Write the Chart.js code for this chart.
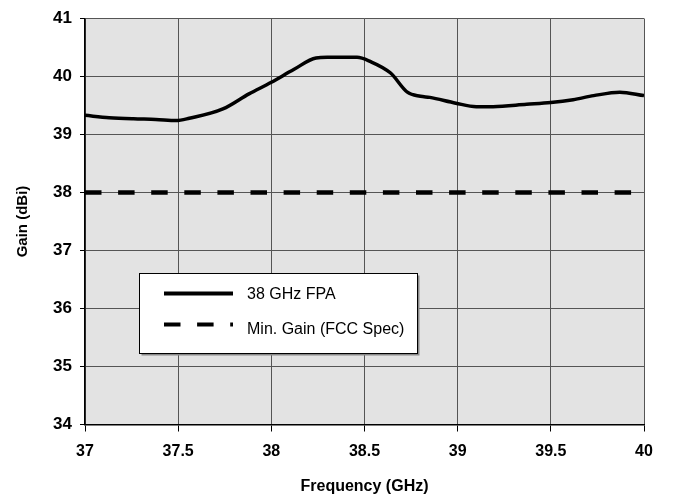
<!DOCTYPE html>
<html>
<head>
<meta charset="utf-8">
<script src="https://cdn.jsdelivr.net/npm/chart.js@4/dist/chart.umd.min.js"></script>
<style>
  body { margin: 0; background: #fff; }
</style>
</head>
<body>
<canvas id="c" width="673" height="499"></canvas>
<script>
// values
const freq = [37, 37.13, 37.26, 37.38, 37.49, 37.56, 37.74, 37.88, 38.0, 38.12, 38.24, 38.3, 38.46, 38.53,
  38.64, 38.73, 38.8, 38.85, 38.99, 39.1, 39.19, 39.37, 39.5, 39.62, 39.73, 39.87, 40.0];
const gain = [39.33, 39.29, 39.27, 39.26, 39.24, 39.28, 39.44, 39.70, 39.90, 40.12, 40.32, 40.33, 40.33, 40.26,
  40.06, 39.73, 39.66, 39.64, 39.54, 39.48, 39.48, 39.52, 39.55, 39.60, 39.67, 39.73, 39.67];
const specFreq = [37, 40];
const specGain = [38, 38];
const seriesNames = ['38 GHz FPA', 'Min. Gain (FCC Spec)'];

const FONT = '"Liberation Sans", Arial, sans-serif';
const DASH = [16.5, 16.6];

const plotBg = {
  id: 'plotBg',
  beforeDraw(chart) {
    const {ctx, chartArea: a} = chart;
    ctx.save();
    ctx.fillStyle = '#e3e3e3';
    ctx.fillRect(a.left, a.top, a.right - a.left, a.bottom - a.top);
    ctx.restore();
  }
};

// legend box drawn by hand, inside the plot
const boxLegend = {
  id: 'boxLegend',
  afterDraw(chart) {
    const ctx = chart.ctx;
    const x = 139.5, y = 273.5, w = 278, h = 80;
    ctx.save();
    ctx.fillStyle = '#888';
    ctx.fillRect(x + 2, y + 2, w, h);
    ctx.fillStyle = '#fff';
    ctx.fillRect(x, y, w, h);
    ctx.strokeStyle = '#000';
    ctx.lineWidth = 1;
    ctx.strokeRect(x, y, w, h);

    ctx.lineWidth = 4;
    ctx.beginPath();
    ctx.moveTo(164, 293.5);
    ctx.lineTo(233, 293.5);
    ctx.stroke();
    ctx.setLineDash(DASH);
    ctx.beginPath();
    ctx.moveTo(164, 324.5);
    ctx.lineTo(233, 324.5);
    ctx.stroke();
    ctx.setLineDash([]);

    ctx.fillStyle = '#000';
    ctx.font = '16px ' + FONT;
    ctx.textBaseline = 'middle';
    ctx.fillText(seriesNames[0], 247, 295);
    ctx.fillText(seriesNames[1], 247, 330);
    ctx.restore();
  }
};

new Chart(document.getElementById('c'), {
  type: 'scatter',
  data: {
    datasets: [
      {
        label: seriesNames[0],
        data: freq.map((f, i) => ({x: f, y: gain[i]})),
        showLine: true,
        borderColor: '#000',
        borderWidth: 3.5,
        pointRadius: 0,
        cubicInterpolationMode: 'monotone'
      },
      {
        label: seriesNames[1],
        data: specFreq.map((f, i) => ({x: f, y: specGain[i]})),
        showLine: true,
        borderColor: '#000',
        borderWidth: 4.5,
        borderDash: DASH,
        borderCapStyle: 'butt',
        pointRadius: 0
      }
    ]
  },
  options: {
    responsive: false,
    animation: false,
    layout: { padding: { top: 18.5, right: 29, left: 0, bottom: 0 } },
    plugins: { legend: { display: false }, tooltip: { enabled: false } },
    scales: {
      x: {
        type: 'linear',
        min: 37, max: 40,
        afterFit(s) { s.height = 74.5; },
        ticks: {
          stepSize: 0.5,
          color: '#000',
          padding: 10,
          callback: v => String(v),
          font: { family: FONT, size: 16, weight: 'bold' }
        },
        grid: { color: '#555', lineWidth: 1, tickLength: 7, tickColor: '#000' },
        border: { color: '#000', width: 1.5 },
        title: {
          display: true,
          text: 'Frequency (GHz)',
          color: '#000',
          padding: { top: 0, bottom: 2.5 },
          font: { family: FONT, size: 16, weight: 'bold' }
        }
      },
      y: {
        min: 34, max: 41,
        afterFit(s) { s.width = 85; },
        ticks: {
          stepSize: 1,
          color: '#000',
          padding: 8,
          callback: v => String(v),
          font: { family: FONT, size: 17, weight: 'bold' }
        },
        grid: { color: '#555', lineWidth: 1, tickLength: 5, tickColor: '#000' },
        border: { color: '#000', width: 1.5 },
        title: {
          display: true,
          text: 'Gain (dBi)',
          color: '#000',
          padding: { top: 14, bottom: 0 },
          font: { family: FONT, size: 15, weight: 'bold' }
        }
      }
    }
  },
  plugins: [plotBg, boxLegend]
});
</script>
</body>
</html>
